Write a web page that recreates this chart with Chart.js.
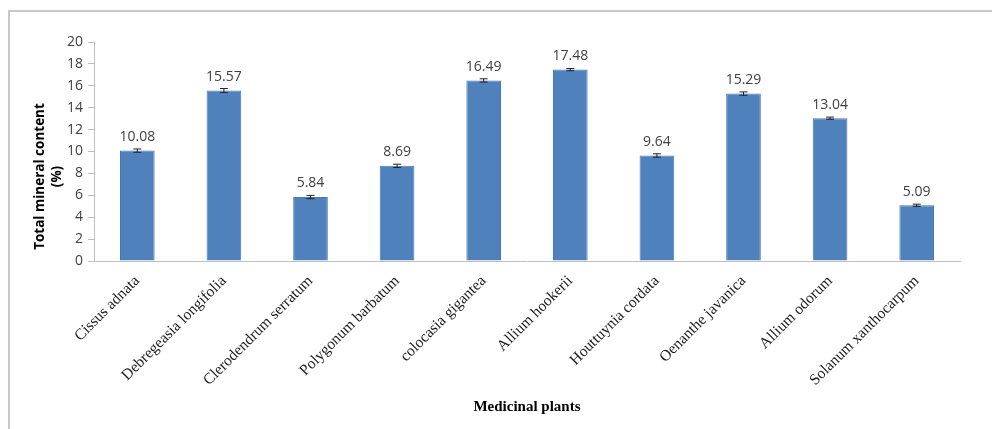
<!DOCTYPE html>
<html>
<head>
<meta charset="utf-8">
<script src="https://cdn.jsdelivr.net/npm/chart.js@4"></script>
<style>
  body { margin: 0; background: #fff; }
  #wrap { position: relative; width: 992px; height: 429px; }
  #frame {
    position: absolute; left: 8px; top: 10px; right: 0; bottom: 0;
    border-top: 2px solid #c8c8c8; border-left: 2px solid #c8c8c8;
    pointer-events: none;
  }
  canvas { position: absolute; left: 0; top: 0; }
</style>
</head>
<body>
<div id="wrap">
  <canvas id="minerals" width="992" height="429"></canvas>
  <div id="frame"></div>
</div>
<script>
// Data
const plants = [
  "Cissus adnata",
  "Debregeasia longifolia",
  "Clerodendrum serratum",
  "Polygonum barbatum",
  "colocasia gigantea",
  "Allium hookerii",
  "Houttuynia cordata",
  "Oenanthe javanica",
  "Allium odorum",
  "Solanum xanthocarpum",
];
const mineral = [10.08, 15.57, 5.84, 8.69, 16.49, 17.48, 9.64, 15.29, 13.04, 5.09];
const errors = [0.15, 0.18, 0.15, 0.15, 0.15, 0.1, 0.15, 0.15, 0.1, 0.1];
const yTitle = ["Total mineral content", "(%)"];

// error bars + value labels, positioned through the chart's scales
const errorBarPlugin = {
  id: "errorBars",
  afterDatasetsDraw(chart) {
    const ctx = chart.ctx;
    const y = chart.scales.y;
    const meta = chart.getDatasetMeta(0);
    ctx.save();
    meta.data.forEach((bar, i) => {
      const top = y.getPixelForValue(mineral[i] + errors[i]);
      const bot = y.getPixelForValue(mineral[i] - errors[i]);
      ctx.strokeStyle = "#222";
      ctx.lineWidth = 1;
      ctx.beginPath();
      ctx.moveTo(bar.x, top);
      ctx.lineTo(bar.x, bot);
      ctx.moveTo(bar.x - 4, top);
      ctx.lineTo(bar.x + 4, top);
      ctx.moveTo(bar.x - 4, bot);
      ctx.lineTo(bar.x + 4, bot);
      ctx.stroke();

      ctx.fillStyle = "#404040";
      ctx.font = "14px 'Open Sans', sans-serif";
      ctx.textAlign = "center";
      ctx.textBaseline = "bottom";
      ctx.fillText(mineral[i].toFixed(2), bar.x, top - 5);
    });
    ctx.restore();
  },
  // y title sits a bit below the middle of the axis in the original
  afterDraw(chart) {
    const ctx = chart.ctx;
    const area = chart.chartArea;
    ctx.save();
    ctx.translate(40, (area.top + area.bottom) / 2 + 25);
    ctx.rotate(-Math.PI / 2);
    ctx.fillStyle = "#000";
    ctx.font = "bold 13.5px 'Open Sans', sans-serif";
    ctx.textAlign = "center";
    ctx.textBaseline = "middle";
    yTitle.forEach((line, i) => ctx.fillText(line, 0, i * 17));
    ctx.restore();
  },
};

new Chart(document.getElementById("minerals"), {
  type: "bar",
  data: {
    labels: plants,
    datasets: [
      {
        data: mineral,
        backgroundColor: "#4F81BD",
        borderColor: "#4678b4",
        borderWidth: 1,
        categoryPercentage: 1,
        barPercentage: 0.4,
      },
    ],
  },
  options: {
    responsive: false,
    animation: false,
    layout: { padding: { top: 42, right: 32, left: 0, bottom: 0 } },
    plugins: {
      legend: { display: false },
      tooltip: { enabled: false },
    },
    scales: {
      x: {
        grid: { display: false },
        border: { color: "#bfbfbf", width: 1 },
        ticks: {
          color: "#1a1a1a",
          font: { family: "'Liberation Serif', serif", size: 15.5 },
          minRotation: 45,
          maxRotation: 45,
          padding: 3,
        },
        title: {
          display: true,
          text: "Medicinal plants",
          color: "#000",
          font: { family: "'Liberation Serif', serif", size: 15, weight: "bold" },
          padding: { top: 0, bottom: 13 },
        },
        afterFit(scale) {
          scale.height = 168;
        },
      },
      y: {
        min: 0,
        max: 20,
        grid: {
          drawOnChartArea: false,
          drawTicks: true,
          tickLength: 6,
          color: "#bfbfbf",
        },
        border: { color: "#bfbfbf", width: 1 },
        ticks: {
          stepSize: 2,
          color: "#404040",
          font: { family: "'Open Sans', sans-serif", size: 14 },
          padding: 5,
        },
        afterFit(scale) {
          scale.width = 94;
        },
      },
    },
  },
  plugins: [errorBarPlugin],
});
</script>
</body>
</html>
